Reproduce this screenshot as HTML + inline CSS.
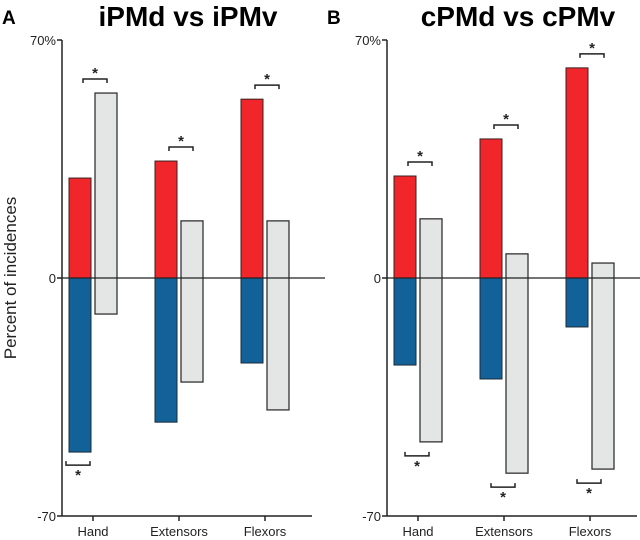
<!DOCTYPE html>
<html><head><meta charset="utf-8"><style>
body{margin:0;background:#fff;}
svg{display:block;font-family:"Liberation Sans",Arial,sans-serif;}
</style></head><body>
<svg id="c" width="640" height="540"></svg>
<script>
const categories=["Hand","Extensors","Flexors"];
const iRed=[29.4,34.4,52.6];
const iBlue=[-51.2,-42.4,-25];
const iGrayTop=[54.4,16.8,16.8];
const iGrayBot=[-10.6,-30.6,-38.8];
const cRed=[30,40.9,61.8];
const cBlue=[-25.6,-29.7,-14.4];
const cGrayTop=[17.4,7.1,4.4];
const cGrayBot=[-48.2,-57.4,-56.2];
const yTicks=["70%","0","-70"];
const tickVals=[70,0,-70];

const NS="http://www.w3.org/2000/svg";
const svg=document.getElementById('c');
function y(v){return 278-v*3.4;}
function mk(t,a,txt){const e=document.createElementNS(NS,t);for(const k in a)e.setAttribute(k,a[k]);if(txt!==undefined)e.textContent=txt;svg.appendChild(e);return e;}
function bracket(x,yy,up,name){
  const g=mk('path',{d:up?`M${x} ${yy+4}V${yy}H${x+24}V${yy+4}`:`M${x} ${yy-4}V${yy}H${x+24}V${yy-4}`,fill:'none',stroke:'#222','stroke-width':1.5});
  
  const s=mk('text',{x:x+12,y:up?yy-1:yy+15,'text-anchor':'middle','font-size':15,'font-weight':'bold',fill:'#222'},'*');
  
}
function panel(ax,letter,title,red,blue,gt,gb,p,tx){
  let e=mk('text',{x:ax-60,y:24,'font-size':19,'font-weight':'bold'},letter);
  
  e=mk('text',{x:tx,y:26,'text-anchor':'middle','font-size':28,'font-weight':'bold'},title);
  
  e=mk('line',{x1:ax,y1:y(70),x2:ax,y2:y(-70),stroke:'#222','stroke-width':1.5});
  
  tickVals.forEach((v,i)=>{
    const t=mk('line',{x1:ax-5,y1:y(v),x2:ax,y2:y(v),stroke:'#222','stroke-width':1.5});
    
    const l=mk('text',{x:ax-6,y:y(v)+5,'text-anchor':'end','font-size':13,fill:'#222'},yTicks[i]);
    
  });
  e=mk('line',{x1:ax,y1:y(-70),x2:ax+250,y2:y(-70),stroke:'#222','stroke-width':1.5});
  
  categories.forEach((c,i)=>{
    const cx=ax+31+i*86;
    const rx=cx-24, gx=cx+2;
    let b=mk('rect',{x:rx,y:y(red[i]),width:22,height:y(0)-y(red[i]),fill:'#f0262a',stroke:'#3a2020','stroke-width':1});
    
    b=mk('rect',{x:rx,y:y(0),width:22,height:y(blue[i])-y(0),fill:'#136199',stroke:'#1a2a3a','stroke-width':1});
    
    b=mk('rect',{x:gx,y:y(gt[i]),width:22,height:y(gb[i])-y(gt[i]),fill:'#e4e6e6',stroke:'#333','stroke-width':1.3});
    
    const t=mk('line',{x1:cx,y1:y(-70),x2:cx,y2:y(-70)+5,stroke:'#222','stroke-width':1.5});
    
    const l=mk('text',{x:cx,y:536,'text-anchor':'middle','font-size':13,fill:'#222'},c);
    
    const top=Math.max(red[i],gt[i]);
    bracket(cx-10,y(top)-14,true,p+'-top-'+c.toLowerCase());
  });
  e=mk('line',{x1:ax,y1:y(0),x2:ax+263,y2:y(0),stroke:'#222','stroke-width':1.3});
  
}
panel(62,'A','iPMd vs iPMv',iRed,iBlue,iGrayTop,iGrayBot,'ipm',188);
panel(387,'B','cPMd vs cPMv',cRed,cBlue,cGrayTop,cGrayBot,'cpm',518);
bracket(66,y(iBlue[0])+13,false,'ipm-bottom-hand');
categories.forEach((c,i)=>{bracket(387+31+i*86-13,y(cGrayBot[i])+14,false,'cpm-bottom-'+c.toLowerCase());});
const yt=mk('text',{x:0,y:0,'font-size':17,fill:'#222','text-anchor':'middle',transform:'translate(16,278) rotate(-90)'},'Percent of incidences');

</script>
</body></html>
